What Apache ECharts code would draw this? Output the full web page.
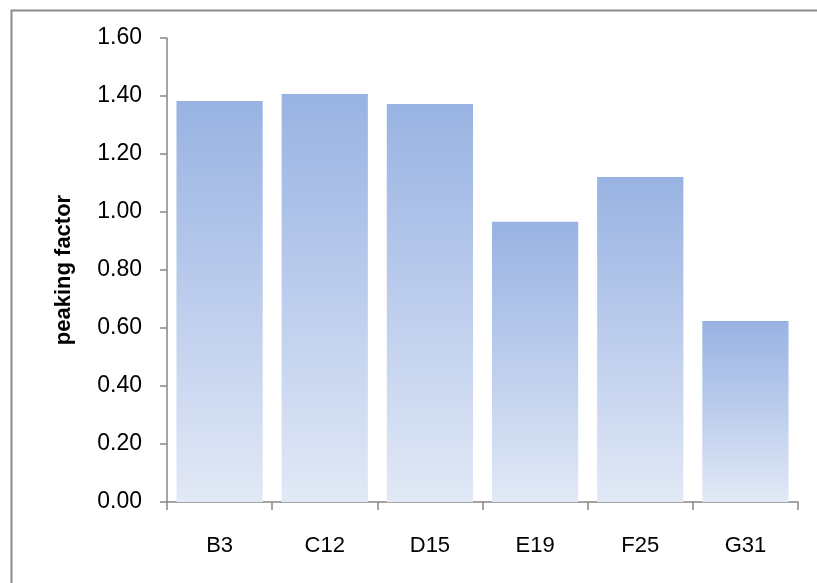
<!DOCTYPE html>
<html>
<head>
<meta charset="utf-8">
<script src="https://cdn.jsdelivr.net/npm/echarts@6/dist/echarts.min.js"></script>
<style>
  html, body { margin: 0; padding: 0; background: #fff; }
  #chart { width: 817px; height: 583px; }
</style>
</head>
<body>
<div id="chart"></div>
<script>
const categories = ['B3', 'C12', 'D15', 'E19', 'F25', 'G31']
const peakingFactor = [1.383, 1.407, 1.372, 0.966, 1.121, 0.624]
const yTicks = { min: 0, max: 1.6, interval: 0.2 }

var myChart = echarts.init(document.getElementById('chart'))

const axisGrey = '#868686'
const font = 'Liberation Sans'

var option = {
  animation: false,
  graphic: [
    {
      type: 'rect',
      left: 9,
      top: 8,
      shape: { width: 900, height: 700 },
      style: { fill: 'none', stroke: '#8a8a8a', lineWidth: 2 },
      silent: true,
    },
  ],
  grid: {
    left: 167,
    right: 19,
    top: 38,
    bottom: 81,
  },
  xAxis: {
    type: 'category',
    data: categories,
    axisLine: { lineStyle: { color: axisGrey, width: 1.5 } },
    axisTick: { show: true, length: 8, lineStyle: { color: axisGrey, width: 1.5 } },
    axisLabel: { color: '#000', fontFamily: font, fontSize: 22, margin: 33 },
  },
  yAxis: {
    type: 'value',
    min: yTicks.min,
    max: yTicks.max,
    interval: yTicks.interval,
    name: 'peaking factor',
    nameLocation: 'middle',
    nameRotate: 90,
    nameGap: 92,
    nameTextStyle: { color: '#000', fontFamily: font, fontSize: 22, fontWeight: 'bold' },
    splitLine: { show: false },
    axisLine: { show: true, lineStyle: { color: axisGrey, width: 1.5 } },
    axisTick: { show: true, length: 7, lineStyle: { color: axisGrey, width: 1.5 } },
    axisLabel: {
      color: '#000',
      fontFamily: font,
      fontSize: 23,
      margin: 25,
      formatter: (v) => v.toFixed(2),
    },
  },
  series: [
    {
      type: 'bar',
      data: peakingFactor,
      barCategoryGap: '18%',
      itemStyle: {
        color: new echarts.graphic.LinearGradient(0, 0, 0, 1, [
          { offset: 0, color: '#98B3E2' },
          { offset: 0.45, color: '#B9CAEC' },
          { offset: 1, color: '#E2E9F6' },
        ]),
      },
    },
  ],
}

myChart.setOption(option)
</script>
</body>
</html>
